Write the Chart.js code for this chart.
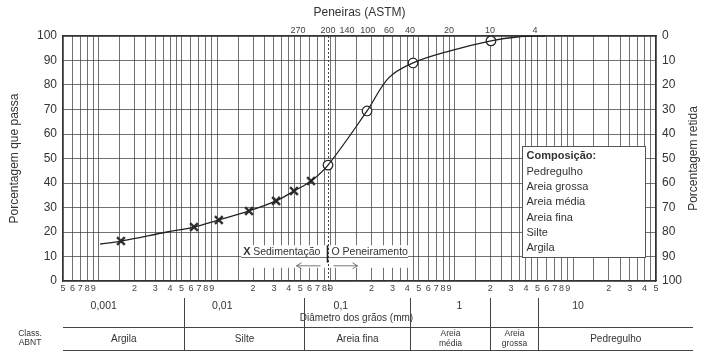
<!DOCTYPE html>
<html>
<head>
<meta charset="utf-8">
<script src="https://cdn.jsdelivr.net/npm/chart.js@4.4.1/dist/chart.umd.min.js"></script>
<style>
  html, body { margin: 0; padding: 0; background: #fff; }
  #wrap { width: 707px; height: 363px; position: relative; }
</style>
</head>
<body>
<div id="wrap"><canvas id="granChart"></canvas></div>
<script>
// curva granulométrica (diâmetro em mm, % que passa)
const curveX = [0.00103, 0.00154, 0.00377, 0.00636, 0.0103, 0.0185, 0.0313, 0.0443, 0.0617, 0.0858, 0.183, 0.28, 0.447, 0.917, 2.03, 3.37, 5.8];
const curveY = [15.1, 16.3, 20.0, 22.0, 24.9, 28.6, 32.7, 36.7, 40.8, 47.3, 69.4, 83.0, 89.0, 93.9, 98.0, 99.6, 100];

// ensaio de sedimentação (X)
const sedX = [0.00154, 0.00636, 0.0103, 0.0185, 0.0313, 0.0443, 0.0617];
const sedY = [16.3, 22.0, 24.9, 28.6, 32.7, 36.7, 40.8];

// peneiramento (O)
const penX = [0.0858, 0.183, 0.447, 2.03];
const penY = [47.3, 69.4, 89.0, 98.0];

// peneiras ASTM no eixo superior
const sieveLabels = ['270', '200', '140', '100', '60', '40', '20', '10', '4'];
const sieveX = [0.0479, 0.0858, 0.124, 0.186, 0.280, 0.421, 0.899, 1.99, 4.77];

// décadas do eixo inferior
const decadeX = [0.001, 0.01, 0.1, 1, 10];
const decadeLabels = ['0,001', '0,01', '0,1', '1', '10'];

// linhas da malha log
const gridMult = [1, 1.5, 2, 2.5, 3, 3.5, 4, 4.5, 5, 6, 7, 8, 9];
const gridDecades = [0.0001, 0.001, 0.01, 0.1, 1, 10];

// classificação ABNT
const classNames = ['Argila', 'Silte', 'Areia fina', 'Areia\nmédia', 'Areia\ngrossa', 'Pedregulho'];
const classBounds = [0.0052, 0.054, 0.42, 2.0, 5.1];

const compItems = ['Pedregulho', 'Areia grossa', 'Areia média', 'Areia fina', 'Silte', 'Argila'];

const gridTicks = gridDecades
    .flatMap(d => gridMult.map(m => +(m * d).toPrecision(3)))
    .filter(v => v >= 0.0005 && v <= 50);

const FONT = "'Liberation Sans', Arial, sans-serif";
const TXT = '#333';
const GRID = 'rgba(60, 60, 60, 0.72)';

Chart.defaults.font.family = FONT;
Chart.defaults.color = TXT;

function significand(v) {
    const e = Math.floor(Math.log10(v) + 1e-9);
    return Math.round(v / Math.pow(10, e) * 100) / 100;
}

const extras = {
    id: 'extras',
    beforeDatasetsDraw(chart) {
        const { ctx, chartArea, scales: { x, y } } = chart;
        ctx.save();

        // caixa Sedimentação / Peneiramento
        const sx0 = x.getPixelForValue(0.0159), sx1 = x.getPixelForValue(0.405);
        const sy0 = y.getPixelForValue(15), sy1 = y.getPixelForValue(5);
        ctx.fillStyle = '#fff';
        ctx.fillRect(sx0, sy0 + 1, sx1 - sx0, sy1 - sy0 - 2);
        const y10 = Math.round(y.getPixelForValue(10)) + 0.5;
        ctx.strokeStyle = GRID;
        ctx.lineWidth = 1;
        ctx.beginPath(); ctx.moveTo(sx0, y10); ctx.lineTo(sx1, y10); ctx.stroke();

        // caixa Composição
        const cx0 = Math.round(x.getPixelForValue(3.71)) + 0.5, cx1 = Math.round(x.getPixelForValue(40.4)) + 0.5;
        const cy0 = Math.round(y.getPixelForValue(55)) + 0.5, cy1 = Math.round(y.getPixelForValue(10)) + 0.5;
        ctx.fillRect(cx0, cy0, cx1 - cx0, cy1 - cy0);
        ctx.strokeStyle = '#555';
        ctx.strokeRect(cx0, cy0, cx1 - cx0, cy1 - cy0);

        // linha pontilhada da peneira 200
        const dx = Math.round(x.getPixelForValue(sieveX[1])) + 0.5;
        ctx.setLineDash([2, 2]);
        ctx.strokeStyle = '#444';
        ctx.beginPath(); ctx.moveTo(dx, chartArea.top); ctx.lineTo(dx, chartArea.bottom + 10); ctx.stroke();
        ctx.setLineDash([]);

        // separador
        ctx.strokeStyle = '#222';
        ctx.lineWidth = 1.6;
        ctx.beginPath(); ctx.moveTo(dx - 1, sy0 + 1); ctx.lineTo(dx - 1, y.getPixelForValue(7.5)); ctx.stroke();

        // textos da caixa
        ctx.fillStyle = TXT;
        ctx.textBaseline = 'alphabetic';
        ctx.textAlign = 'left';
        ctx.font = 'bold 11px ' + FONT;
        ctx.fillText('X', sx0 + 2, y10 - 2.5);
        ctx.font = '10.5px ' + FONT;
        ctx.fillText('Sedimentação', sx0 + 12, y10 - 2.5);
        ctx.fillText('O Peneiramento', dx + 3, y10 - 2.5);

        // setas
        const ay = y.getPixelForValue(6.2);
        ctx.strokeStyle = '#555';
        ctx.lineWidth = 0.8;
        ctx.beginPath();
        ctx.moveTo(dx - 8, ay); ctx.lineTo(dx - 32, ay);
        ctx.moveTo(dx - 27, ay - 3); ctx.lineTo(dx - 32, ay); ctx.lineTo(dx - 27, ay + 3);
        ctx.moveTo(dx + 5, ay); ctx.lineTo(dx + 29, ay);
        ctx.moveTo(dx + 24, ay - 3); ctx.lineTo(dx + 29, ay); ctx.lineTo(dx + 24, ay + 3);
        ctx.stroke();

        // textos Composição
        ctx.textBaseline = 'middle';
        ctx.font = 'bold 11px ' + FONT;
        ctx.fillText('Composição:', cx0 + 4, cy0 + 9);
        ctx.font = '11px ' + FONT;
        compItems.forEach((t, i) => ctx.fillText(t, cx0 + 4, cy0 + 25.5 + i * 15.2));

        ctx.restore();
    },
    afterDraw(chart) {
        const { ctx, chartArea, scales: { x } } = chart;
        ctx.save();
        ctx.fillStyle = TXT;

        // título eixo direito
        ctx.font = '12px ' + FONT;
        ctx.textAlign = 'center';
        ctx.textBaseline = 'middle';
        ctx.translate(694, (chartArea.top + chartArea.bottom) / 2);
        ctx.rotate(-Math.PI / 2);
        ctx.fillText('Porcentagem retida', 0, 0);
        ctx.setTransform(1, 0, 0, 1, 0, 0);

        ctx.font = '10px ' + FONT;
        ctx.fillText('Diâmetro dos grãos (mm)', (chartArea.left + chartArea.right) / 2 - 3, 318);

        // tabela de classificação
        const tRight = 693, l1 = 327.5, l2 = 350.5;
        ctx.strokeStyle = '#444';
        ctx.lineWidth = 1.2;
        ctx.beginPath();
        ctx.moveTo(chartArea.left, l1); ctx.lineTo(tRight, l1);
        ctx.moveTo(chartArea.left, l2); ctx.lineTo(tRight, l2);
        ctx.stroke();
        ctx.lineWidth = 1;
        const edges = [chartArea.left].concat(classBounds.map(v => Math.round(x.getPixelForValue(v)) + 0.5), [tRight]);
        ctx.beginPath();
        edges.slice(1, -1).forEach(px => { ctx.moveTo(px, 298); ctx.lineTo(px, l2); });
        ctx.stroke();

        classNames.forEach((name, i) => {
            const cx = (edges[i] + edges[i + 1]) / 2;
            const lines = name.split('\n');
            if (lines.length === 1) {
                ctx.font = '10px ' + FONT;
                ctx.fillText(name, cx, 339);
            } else {
                ctx.font = '8.5px ' + FONT;
                ctx.fillText(lines[0], cx, 334);
                ctx.fillText(lines[1], cx, 344);
            }
        });

        ctx.font = '8.5px ' + FONT;
        ctx.fillText('Class.', 30, 334);
        ctx.fillText('ABNT', 30, 343);
        ctx.restore();
    }
};

new Chart(document.getElementById('granChart'), {
    type: 'line',
    data: {
        datasets: [
            {
                label: 'Curva',
                data: curveX.map((v, i) => ({ x: v, y: curveY[i] })),
                borderColor: '#222',
                borderWidth: 1.3,
                pointRadius: 0,
                tension: 0.35,
                fill: false
            },
            {
                label: 'Sedimentação',
                data: sedX.map((v, i) => ({ x: v, y: sedY[i] })),
                showLine: false,
                pointStyle: 'crossRot',
                pointRadius: 5.5,
                pointBorderWidth: 2.5,
                pointBorderColor: '#333'
            },
            {
                label: 'Peneiramento',
                data: penX.map((v, i) => ({ x: v, y: penY[i] })),
                showLine: false,
                pointStyle: 'circle',
                pointRadius: 4.8,
                pointBorderWidth: 1.2,
                pointBorderColor: '#222',
                pointBackgroundColor: '#fff'
            }
        ]
    },
    options: {
        responsive: true,
        maintainAspectRatio: false,
        animation: false,
        layout: { padding: 0 },
        plugins: {
            legend: { display: false },
            tooltip: { enabled: false }
        },
        scales: {
            x: {
                type: 'logarithmic',
                position: 'bottom',
                weight: 0,
                min: 0.0005,
                max: 50,
                afterBuildTicks: axis => { axis.ticks = gridTicks.map(v => ({ value: v })); },
                afterFit: axis => { axis.height = 16; },
                grid: { color: GRID, lineWidth: 1, drawTicks: false },
                border: { color: '#333', width: 1.2 },
                ticks: {
                    autoSkip: false,
                    maxRotation: 0,
                    minRotation: 0,
                    padding: 2,
                    font: { size: 9 },
                    color: '#444',
                    callback: function(value) {
                        const s = significand(value);
                        return (s === Math.round(s) && s !== 1) ? String(s) : '';
                    }
                }
            },
            x2: {
                type: 'logarithmic',
                position: 'bottom',
                weight: 1,
                min: 0.0005,
                max: 50,
                afterBuildTicks: axis => { axis.ticks = decadeX.map(v => ({ value: v })); },
                afterFit: axis => { axis.height = 66; },
                grid: { display: false, drawTicks: false },
                border: { display: false },
                ticks: {
                    autoSkip: false,
                    maxRotation: 0,
                    minRotation: 0,
                    padding: 3,
                    labelOffset: 5,
                    font: { size: 10.5 },
                    color: TXT,
                    callback: (value, i) => decadeLabels[i]
                }
            },
            xTop: {
                type: 'logarithmic',
                position: 'top',
                min: 0.0005,
                max: 50,
                afterBuildTicks: axis => { axis.ticks = sieveX.map(v => ({ value: v })); },
                afterFit: axis => { axis.height = 36; },
                grid: { display: false, drawTicks: false },
                border: { color: '#333', width: 1.2 },
                title: {
                    display: true,
                    text: 'Peneiras (ASTM)',
                    font: { size: 12 },
                    color: TXT,
                    padding: { top: 5, bottom: 0 }
                },
                ticks: {
                    autoSkip: false,
                    maxRotation: 0,
                    minRotation: 0,
                    padding: 0,
                    font: { size: 9 },
                    color: '#444',
                    callback: (value, i) => sieveLabels[i]
                }
            },
            y: {
                type: 'linear',
                position: 'left',
                min: 0,
                max: 100,
                afterFit: axis => { axis.width = 63; },
                grid: { color: GRID, lineWidth: 1, drawTicks: false },
                border: { color: '#333', width: 1.2 },
                title: {
                    display: true,
                    text: 'Porcentagem que passa',
                    font: { size: 12 },
                    color: TXT,
                    padding: { top: 7, bottom: 0 }
                },
                ticks: {
                    stepSize: 5,
                    padding: 6,
                    font: { size: 12 },
                    color: TXT,
                    callback: v => (v % 10 === 0 ? v : '')
                }
            },
            y2: {
                type: 'linear',
                position: 'right',
                reverse: true,
                min: 0,
                max: 100,
                afterFit: axis => { axis.width = 51; },
                grid: { display: false, drawTicks: false },
                border: { color: '#333', width: 1.2 },
                ticks: {
                    stepSize: 10,
                    padding: 6,
                    font: { size: 12 },
                    color: TXT
                }
            }
        }
    },
    plugins: [extras]
});
</script>
</body>
</html>
